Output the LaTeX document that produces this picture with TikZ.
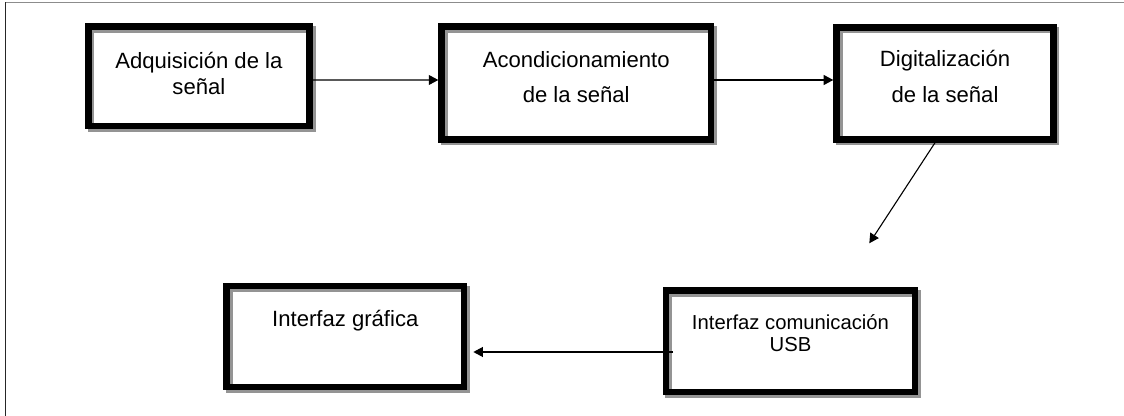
\documentclass[tikz,border=0pt]{standalone}
\usepackage{fontspec}
\setmainfont{Liberation Sans}
\usetikzlibrary{arrows.meta,shadows}

\def\pxu{0.543pt}%Escala de la figura

\tikzset{
  bloque/.style={draw, line width=3.53pt, align=center, inner sep=0pt,
    general shadow={draw=black!42, line width=3.53pt, shadow xshift=1.5pt, shadow yshift=-1.5pt}},
  flecha/.style={line width=0.6pt, -{Triangle[length=5.2pt,width=5.4pt]}}
}

\begin{document}
\begin{tikzpicture}[x=\pxu,y=-\pxu]

    \useasboundingbox (0,0) rectangle (1124,416);

    %Marco
    \draw[line width=0.75pt,black!45] (5.3,2.5)--(1124,2.5);
    \draw[line width=0.75pt,black!85] (5.3,2.5)--(5.3,416);

    %Bloques
    \node[bloque,minimum width=120.1pt,minimum height=53.9pt,text depth=3.3pt,
      font=\fontsize{12}{14.1}\selectfont] (acq) at (198.9,76.2) {Adquisición de la\\señal};
    \node[bloque,minimum width=146.2pt,minimum height=61.3pt,text depth=6pt,
      font=\fontsize{12}{19}\selectfont] (cond) at (576.2,83) {Acondicionamiento\\de la señal};
    \node[bloque,minimum width=117.8pt,minimum height=60.9pt,text depth=7.3pt,
      font=\fontsize{12}{19.5}\selectfont] (dig) at (945,83.4) {Digitalización\\de la señal};
    \node[bloque,minimum width=129pt,minimum height=54.7pt,text depth=19.2pt,
      font=\fontsize{12}{14.4}\selectfont] (gui) at (345.3,336.4) {Interfaz gráfica};
    \node[bloque,minimum width=135.3pt,minimum height=55pt,text depth=8.8pt,
      font=\fontsize{11}{12.2}\selectfont] (usb) at (790.5,341.2) {Interfaz comunicación\\USB};

    %Flechas
    \coordinate (dig-fin) at (869.3,243.3);
    \draw[flecha] ([shift={(0,3.8)}]acq.east)--([shift={(0,-3)}]cond.west);
    \draw[flecha] ([shift={(0,-3)}]cond.east)--([shift={(0,-3.4)}]dig.west);
    \draw[flecha] ([shift={(-10,0)}]dig.south)--(dig-fin);
    \draw[flecha] ([shift={(10.5,10.8)}]usb.west)--([shift={(6,15.6)}]gui.east);

\end{tikzpicture}
\end{document}
